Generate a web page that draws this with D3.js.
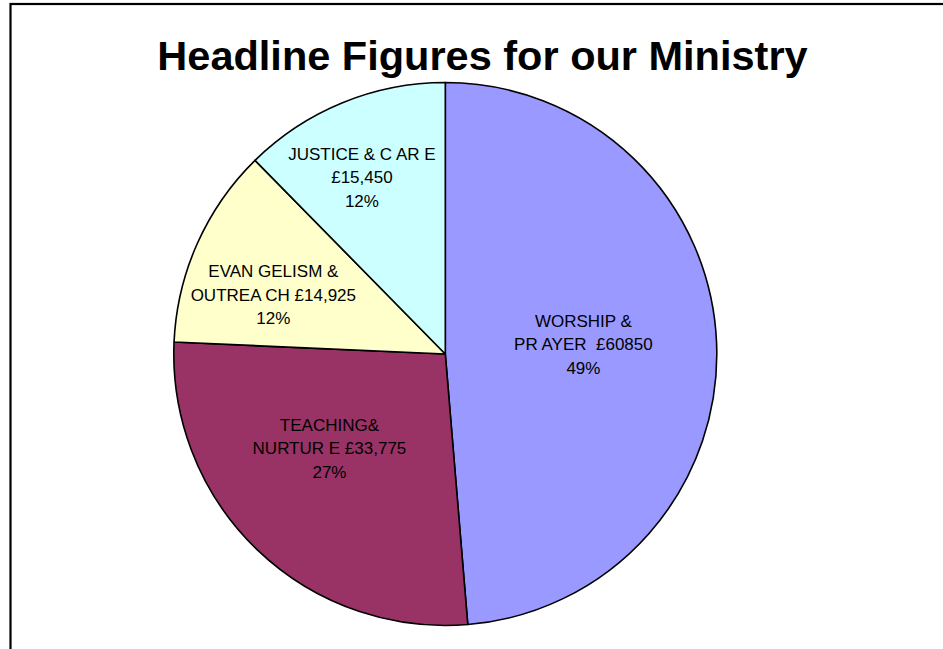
<!DOCTYPE html>
<html>
<head>
<meta charset="utf-8">
<script src="https://cdn.jsdelivr.net/npm/d3@7"></script>
<style>
  html, body { margin: 0; padding: 0; background: #fff; }
  svg { display: block; }
  text { font-family: Arial, "Liberation Sans", sans-serif; white-space: pre; }
</style>
</head>
<body>
<script>
// ---- data ----
const categories = ["WORSHIP & PRAYER", "TEACHING & NURTURE", "EVANGELISM & OUTREACH", "JUSTICE & CARE"];
const values = [60850, 33775, 14925, 15450];
const labelLines = [
  ["WORSHIP &", "PR AYER  £60850"],
  ["TEACHING&", "NURTUR E £33,775"],
  ["EVAN GELISM &", "OUTREA CH £14,925"],
  ["JUSTICE & C AR E", "£15,450"]
];
const colors = ["#9999FF", "#993366", "#FFFFCC", "#CCFFFF"];
const title = "Headline Figures for our Ministry";

// ---- layout (label placement: radius fraction, angle nudge in degrees) ----
const labelRadius = [0.51, 0.55, 0.67, 0.72];
const labelAngleNudge = [-1.7, 7, -5, -3];

const W = 943, H = 649;
const cx = 445.3, cy = 354, R = 271.5;

const svg = d3.select("body").append("svg").attr("width", W).attr("height", H);

// frame (left and top edges visible)
svg.append("rect")
  .attr("x", 10.5).attr("y", 4)
  .attr("width", 1000).attr("height", 1000)
  .attr("fill", "none").attr("stroke", "#000").attr("stroke-width", 2.2);

svg.append("text")
  .attr("x", 482.5).attr("y", 70)
  .attr("text-anchor", "middle")
  .attr("font-size", 41.5).attr("font-weight", "bold")
  .attr("fill", "#000")
  .text(title);

const total = d3.sum(values);
const pie = d3.pie().sort(null).value(d => d);
const arcs = pie(values);
const arc = d3.arc().innerRadius(0).outerRadius(R);

const g = svg.append("g").attr("transform", `translate(${cx},${cy})`);

g.selectAll("path.slice").data(arcs).join("path")
  .attr("class", "slice")
  .attr("d", arc)
  .attr("fill", (d, i) => colors[i])
  .attr("stroke", "#000")
  .attr("stroke-width", 1.6)
  .attr("stroke-linejoin", "round");

const lineH = 23.5;
arcs.forEach((d, i) => {
  const mid = (d.startAngle + d.endAngle) / 2 + labelAngleNudge[i] * Math.PI / 180;
  const r = R * labelRadius[i];
  const x = r * Math.sin(mid);
  const y = -r * Math.cos(mid);
  const pct = d3.format(".0%")(values[i] / total);
  const lines = [...labelLines[i], pct];
  const t = g.append("text")
    .attr("text-anchor", "middle")
    .attr("font-size", 17)
    .attr("fill", "#000");
  lines.forEach((s, k) => {
    t.append("tspan")
      .attr("x", x)
      .attr("y", y + (k - 1) * lineH + 6)
      .text(s);
  });
});
</script>
</body>
</html>
